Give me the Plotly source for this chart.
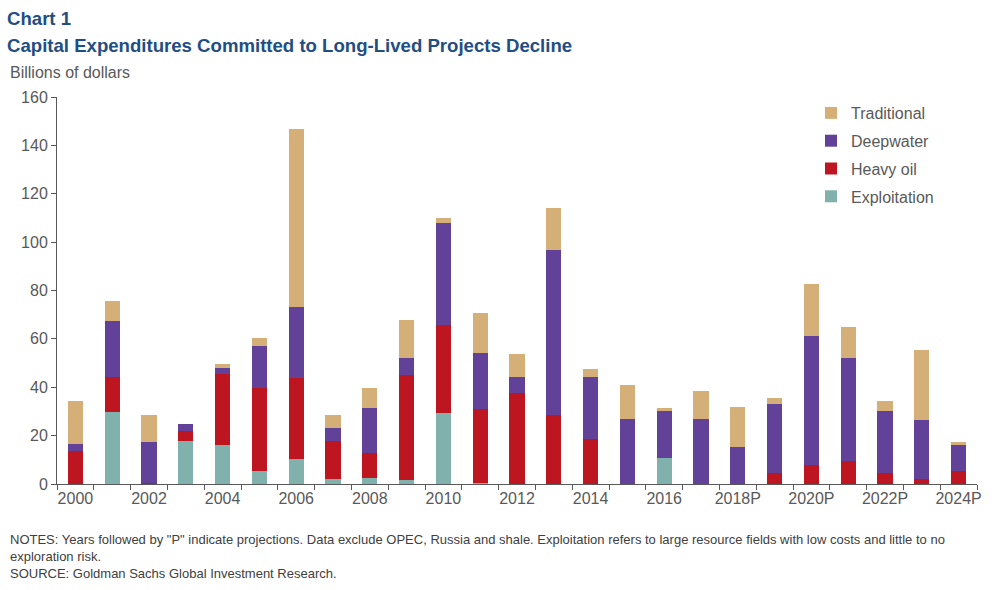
import plotly.graph_objects as go

years = ["2000", "2001", "2002", "2003", "2004", "2005", "2006", "2007", "2008", "2009",
         "2010", "2011", "2012", "2013", "2014", "2015", "2016", "2017", "2018P", "2019P",
         "2020P", "2021P", "2022P", "2023P", "2024P"]
tick_labels = ["2000", "", "2002", "", "2004", "", "2006", "", "2008", "", "2010", "", "2012", "",
               "2014", "", "2016", "", "2018P", "", "2020P", "", "2022P", "", "2024P"]

exploitation = [0, 29.9, 0, 17.9, 16.3, 5.5, 10.5, 2.2, 2.6, 1.8, 29.5, 0.5, 0, 0, 0, 0,
                10.9, 0, 0, 0, 0, 0, 0, 0, 0]
heavy_oil = [13.8, 14.5, 0.5, 4.1, 29.3, 34.3, 33.4, 15.7, 10.1, 43.1, 36.1, 30.4, 37.5, 28.6,
             18.7, 0, 0, 0, 0, 4.7, 8.0, 9.4, 4.7, 2.2, 5.5]
deepwater = [2.9, 23.1, 17.0, 2.9, 2.5, 17.4, 29.4, 5.4, 18.8, 7.4, 42.4, 23.4, 6.9, 68.2,
             25.7, 27.0, 19.4, 27.0, 15.4, 28.5, 53.3, 42.8, 25.6, 24.4, 10.8]
traditional = [17.7, 8.3, 11.1, 0, 1.6, 3.3, 73.5, 5.3, 8.3, 15.6, 2.1, 16.5, 9.5, 17.4,
               3.3, 14.0, 1.2, 11.6, 16.6, 2.5, 21.5, 12.8, 4.1, 28.9, 1.2]

series = [
    ("Exploitation", exploitation, "#80B1AD", 4),
    ("Heavy oil", heavy_oil, "#BE1620", 3),
    ("Deepwater", deepwater, "#624298", 2),
    ("Traditional", traditional, "#D4B078", 1),
]

grey = "#595959"
font_family = "Liberation Sans, Arial, sans-serif"

L, R, T, B = 57, 977, 97, 484
PW, PH = R - L, B - T


def px_x(x):
    return (x - L) / PW


def px_y(y):
    return 1 - (y - T) / PH


fig = go.Figure()
for name, vals, color, rank in series:
    fig.add_trace(go.Bar(x=years, y=vals, name=name, marker=dict(color=color, line=dict(width=0)),
                         legendgroup=name, legendrank=rank))

fig.update_layout(
    width=998, height=590,
    barmode="stack", bargap=0.59,
    paper_bgcolor="white", plot_bgcolor="white",
    margin=dict(l=L, r=998 - R, t=T, b=590 - B, autoexpand=False),
    font=dict(family=font_family, color=grey, size=15),
    showlegend=True,
    legend=dict(x=px_x(811), y=px_y(96), xanchor="left", yanchor="top",
                traceorder="grouped",
                font=dict(size=16, color=grey), tracegroupgap=4, itemwidth=30,
                bgcolor="rgba(0,0,0,0)"),
    xaxis=dict(type="category", tickmode="array", tickvals=years, ticktext=tick_labels,
               tickson="boundaries", ticks="outside", ticklen=5, tickcolor=grey, tickangle=0,
               showline=True, linecolor=grey, linewidth=1, showgrid=False, automargin=False,
               tickfont=dict(size=16, color=grey)),
    yaxis=dict(range=[0, 160], dtick=20, ticks="outside", ticklen=5, tickcolor=grey,
               showline=True, linecolor=grey, linewidth=1, showgrid=False, zeroline=False,
               automargin=False, tickfont=dict(size=16, color=grey)),
)

title_color = "#1F4E84"


def add_text(text, x, y, size, color, yanchor="middle", family=None):
    f = dict(size=size, color=color)
    if family:
        f["family"] = family
    fig.add_annotation(text=text, x=px_x(x), y=px_y(y), xref="paper", yref="paper",
                       showarrow=False, xanchor="left", yanchor=yanchor, align="left", font=f)


add_text("<b>Chart 1</b>", 5, 18, 18.6, title_color)
add_text("<b>Capital Expenditures Committed to Long-Lived Projects Decline</b>", 5, 46, 18.6, title_color)
add_text("Billions of dollars", 8, 72, 16, grey)

notes = ('NOTES: Years followed by "P" indicate projections. Data exclude OPEC, Russia and shale. '
         'Exploitation refers to large resource fields with low costs and little to no<br>'
         'exploration risk.<br>SOURCE: Goldman Sachs Global Investment Research.')
add_text(notes, 8, 530, 13, "#404040", yanchor="top")

fig.write_html("out.html", config={"displayModeBar": False},
               post_script="document.body.style.margin='0';")
